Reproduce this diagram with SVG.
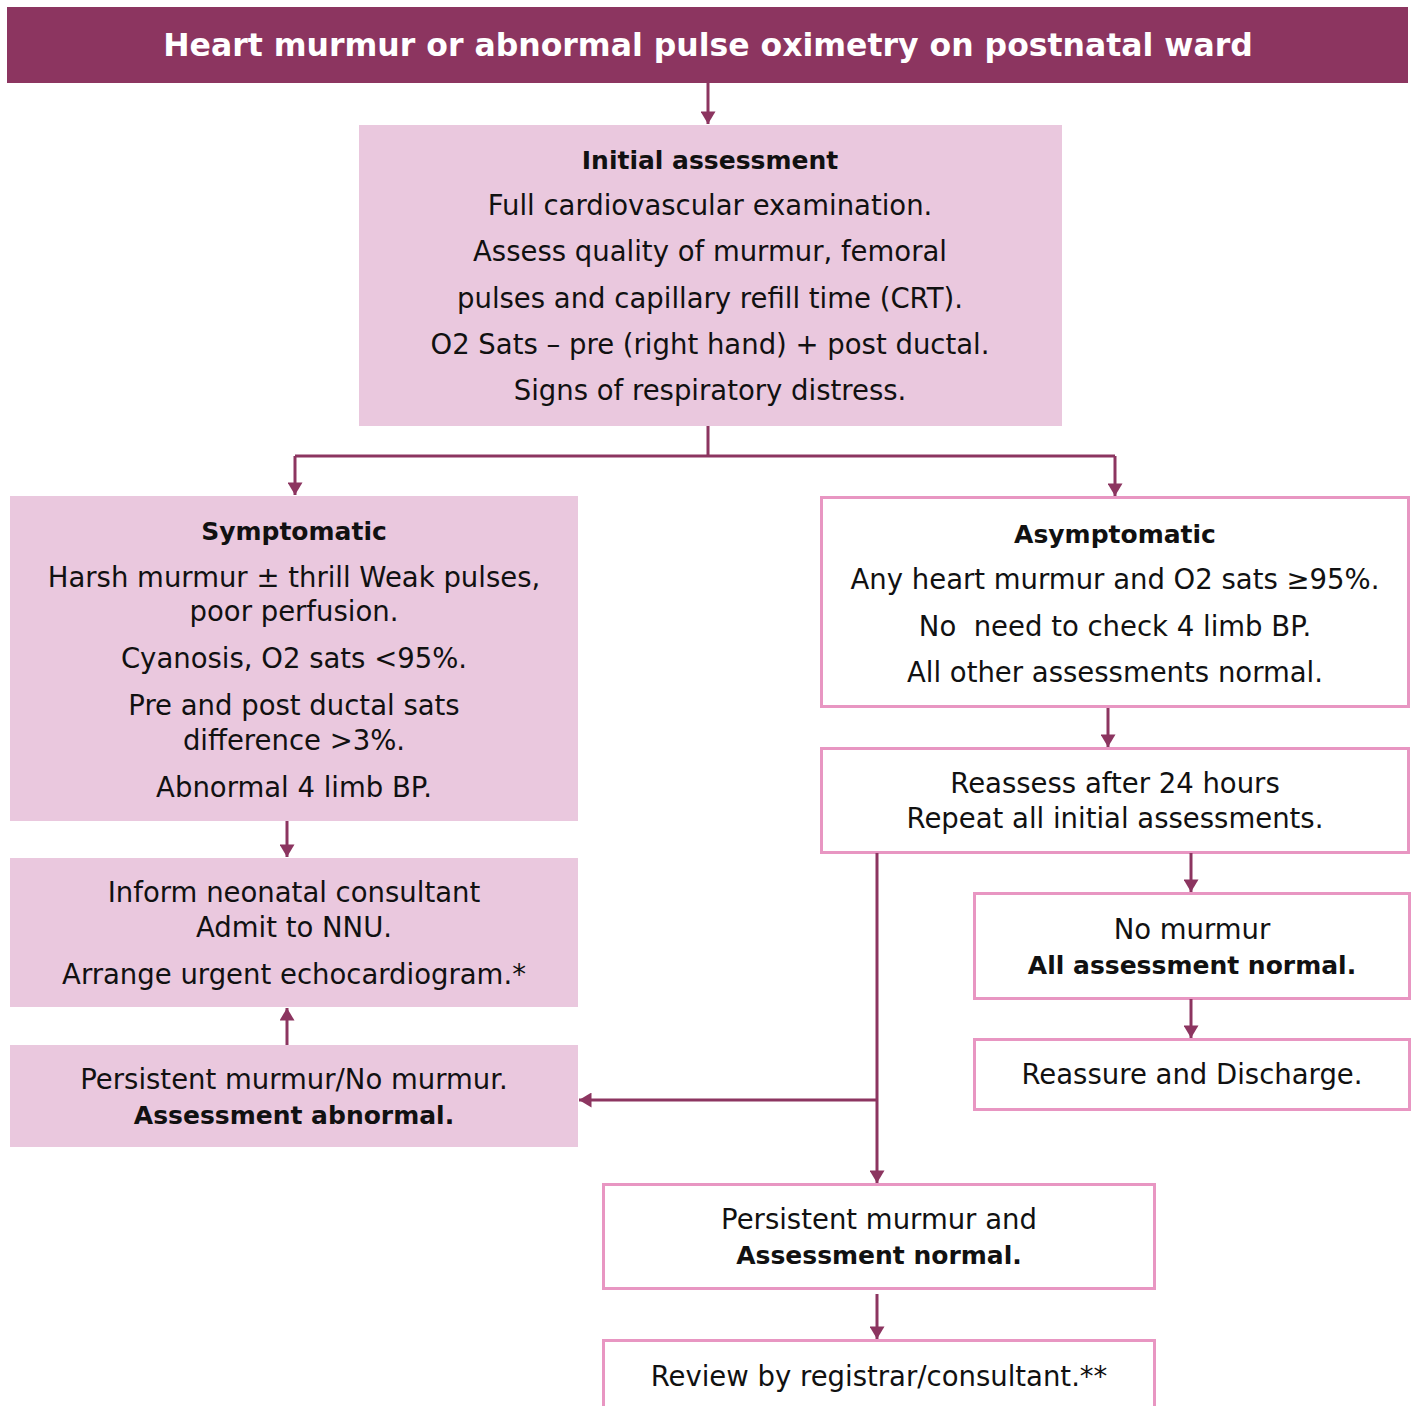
<svg xmlns="http://www.w3.org/2000/svg" width="1416" height="1406" viewBox="0 0 1416 1406">
<defs>
<marker id="ah" viewBox="0 0 10 12" refX="10" refY="6" markerWidth="13" markerHeight="15" markerUnits="userSpaceOnUse" orient="auto">
<path d="M0,0 L10,6 L0,12 Z" fill="#8C3560"/>
</marker>
<style>
.t{font-family:"DejaVu Sans","Liberation Sans",Arial,sans-serif;font-size:27.5px;fill:#111;text-anchor:middle}
.b{font-weight:bold;font-size:25px}
.fill{fill:#EAC8DE}
.out{fill:#fff;stroke:#E896C2;stroke-width:3}
.c{fill:none;stroke:#8C3560;stroke-width:3}
.ca{fill:none;stroke:#8C3560;stroke-width:3;marker-end:url(#ah)}
</style>
</defs>
<rect width="1416" height="1406" fill="#fff"/>
<g id="header">
<rect x="7" y="7" width="1401" height="76" fill="#8C3560"/>
<text x="708" y="56" class="t b" style="font-size:31.5px;fill:#fff">Heart murmur or abnormal pulse oximetry on postnatal ward</text>
</g>
<g id="initial">
<rect x="359" y="125" width="703" height="301" class="fill"/>
<text class="t b" x="710" y="169">Initial assessment</text>
<text class="t" x="710" y="215">Full cardiovascular examination.</text>
<text class="t" x="710" y="261">Assess quality of murmur, femoral</text>
<text class="t" x="710" y="308">pulses and capillary refill time (CRT).</text>
<text class="t" x="710" y="354">O2 Sats – pre (right hand) + post ductal.</text>
<text class="t" x="710" y="400">Signs of respiratory distress.</text>
</g>
<g id="symptomatic">
<rect x="10" y="496" width="568" height="325" class="fill"/>
<text class="t b" x="294" y="540">Symptomatic</text>
<text class="t" x="294" y="587">Harsh murmur ± thrill Weak pulses,</text>
<text class="t" x="294" y="621">poor perfusion.</text>
<text class="t" x="294" y="668">Cyanosis, O2 sats &lt;95%.</text>
<text class="t" x="294" y="715">Pre and post ductal sats</text>
<text class="t" x="294" y="750">difference &gt;3%.</text>
<text class="t" x="294" y="797">Abnormal 4 limb BP.</text>
</g>
<g id="asymptomatic">
<rect x="821.5" y="497.5" width="587" height="209" class="out"/>
<text class="t b" x="1115" y="543">Asymptomatic</text>
<text class="t" x="1115" y="589">Any heart murmur and O2 sats ≥95%.</text>
<text class="t" x="1115" y="636" xml:space="preserve">No  need to check 4 limb BP.</text>
<text class="t" x="1115" y="682">All other assessments normal.</text>
</g>
<g id="reassess">
<rect x="821.5" y="748.5" width="587" height="104" class="out"/>
<text class="t" x="1115" y="793">Reassess after 24 hours</text>
<text class="t" x="1115" y="828">Repeat all initial assessments.</text>
</g>
<g id="nomurmur">
<rect x="974.5" y="893.5" width="435" height="105" class="out"/>
<text class="t" x="1192" y="939">No murmur</text>
<text class="t b" x="1192" y="974">All assessment normal.</text>
</g>
<g id="reassure">
<rect x="974.5" y="1039.5" width="435" height="70" class="out"/>
<text class="t" x="1192" y="1084">Reassure and Discharge.</text>
</g>
<g id="inform">
<rect x="10" y="858" width="568" height="149" class="fill"/>
<text class="t" x="294" y="902">Inform neonatal consultant</text>
<text class="t" x="294" y="937">Admit to NNU.</text>
<text class="t" x="294" y="984">Arrange urgent echocardiogram.*</text>
</g>
<g id="abnormal">
<rect x="10" y="1045" width="568" height="102" class="fill"/>
<text class="t" x="294" y="1089">Persistent murmur/No murmur.</text>
<text class="t b" x="294" y="1124">Assessment abnormal.</text>
</g>
<g id="normal">
<rect x="603.5" y="1184.5" width="551" height="104" class="out"/>
<text class="t" x="879" y="1229">Persistent murmur and</text>
<text class="t b" x="879" y="1264">Assessment normal.</text>
</g>
<g id="review">
<rect x="603.5" y="1340.5" width="551" height="80" class="out"/>
<text class="t" x="879" y="1386">Review by registrar/consultant.**</text>
</g>
<g id="connectors">
<path class="ca" d="M708,83 V124"/>
<path class="c" d="M708,426 V456 M295,456 H1115"/>
<path class="ca" d="M295,456 V495"/>
<path class="ca" d="M1115,456 V496"/>
<path class="ca" d="M1108,708 V747"/>
<path class="ca" d="M1191,853 V892"/>
<path class="ca" d="M1191,999 V1038"/>
<path class="ca" d="M287,821 V857"/>
<path class="ca" d="M287,1045 V1008"/>
<path class="ca" d="M877,853 V1183"/>
<path class="ca" d="M877,1100 H579"/>
<path class="ca" d="M877,1294 V1339"/>
</g>
</svg>
